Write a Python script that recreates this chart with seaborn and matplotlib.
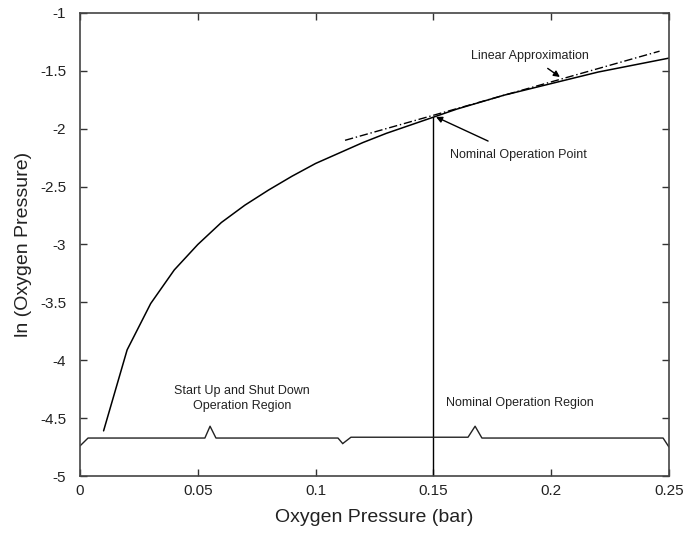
import matplotlib
matplotlib.use("Agg")
import matplotlib.pyplot as plt
import seaborn as sns
import pandas as pd

# Data
pressure = [0.01, 0.02, 0.03, 0.04, 0.05, 0.06, 0.07, 0.08, 0.09, 0.10,
            0.11, 0.12, 0.13, 0.14, 0.15, 0.16, 0.17, 0.18, 0.19, 0.20,
            0.21, 0.22, 0.23, 0.24, 0.25]
ln_pressure = [-4.61, -3.91, -3.51, -3.22, -3.00, -2.81, -2.66, -2.53, -2.41, -2.30,
               -2.21, -2.12, -2.04, -1.97, -1.90, -1.83, -1.77, -1.71, -1.66, -1.61,
               -1.56, -1.51, -1.47, -1.43, -1.39]

linear_x = [0.1125, 0.246]
linear_y = [-2.10, -1.33]

nominal_x = 0.15
nominal_y = -1.897

# brace outlines (x, y) for operation regions
brace_left_x = [0.0, 0.0034, 0.0530, 0.0552, 0.0577, 0.1095, 0.1115]
brace_left_y = [-4.74, -4.672, -4.672, -4.57, -4.672, -4.672, -4.72]
brace_right_x = [0.1115, 0.115, 0.1647, 0.1677, 0.1706, 0.2475, 0.25]
brace_right_y = [-4.72, -4.665, -4.665, -4.57, -4.672, -4.672, -4.75]

sns.set_theme(style="ticks")
plt.rcParams['font.family'] = ['Liberation Sans', 'DejaVu Sans']

fig = plt.figure(figsize=(6.97, 5.34), dpi=100)
ax = fig.add_axes([0.1148, 0.1086, 0.8450, 0.8671])

df = pd.DataFrame({"p": pressure, "lnp": ln_pressure})
sns.lineplot(data=df, x="p", y="lnp", ax=ax, color="black", linewidth=1.1)

ax.plot(linear_x, linear_y, color="black", linewidth=1.0, linestyle=(0, (6, 2, 1, 2)))
ax.plot([nominal_x, nominal_x], [-5, nominal_y], color="black", linewidth=1.0)
ax.plot(brace_left_x, brace_left_y, color="#222222", linewidth=1.0)
ax.plot(brace_right_x, brace_right_y, color="#222222", linewidth=1.0)

txt_color = "#222222"
ax.annotate("Linear Approximation", xy=(0.2037, -1.553), xytext=(0.191, -1.371),
            ha="center", va="center", fontsize=9, color=txt_color,
            arrowprops=dict(arrowstyle="-|>", color="black", lw=1.0,
                            shrinkA=4, shrinkB=0, mutation_scale=9))
ax.annotate("Nominal Operation Point", xy=(0.1511, -1.898), xytext=(0.186, -2.227),
            ha="center", va="center", fontsize=9, color=txt_color,
            arrowprops=dict(arrowstyle="-|>", color="black", lw=1.0,
                            shrinkA=8, shrinkB=0, mutation_scale=9))
ax.text(0.0688, -4.33, "Start Up and Shut Down\nOperation Region", ha="center", va="center",
        fontsize=9, color=txt_color, linespacing=1.4)
ax.text(0.1868, -4.37, "Nominal Operation Region", ha="center", va="center",
        fontsize=9, color=txt_color)

ax.set_xlim(0, 0.25)
ax.set_ylim(-5, -1)
ax.set_xticks([0, 0.05, 0.1, 0.15, 0.2, 0.25])
ax.set_xticklabels(["0", "0.05", "0.1", "0.15", "0.2", "0.25"])
ax.set_yticks([-5, -4.5, -4, -3.5, -3, -2.5, -2, -1.5, -1])
ax.set_yticklabels(["-5", "-4.5", "-4", "-3.5", "-3", "-2.5", "-2", "-1.5", "-1"])
ax.tick_params(direction="in", top=True, right=True, length=5, width=1,
               labelsize=11, colors="#333333", labelcolor="#222222", pad=6)
ax.tick_params(axis="y", pad=10)
for s in ax.spines.values():
    s.set_visible(True)
    s.set_color("#444444")
    s.set_linewidth(1.2)
ax.set_xlabel("Oxygen Pressure (bar)", fontsize=14, color="#222222", labelpad=8)
ax.set_ylabel("ln (Oxygen Pressure)", fontsize=14, color="#222222", labelpad=6)

fig.savefig("out.png", dpi=100)
